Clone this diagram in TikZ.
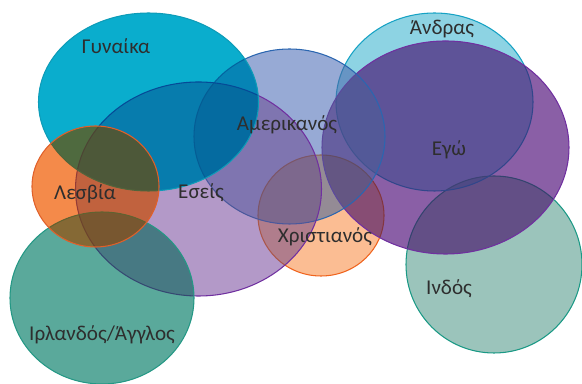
\documentclass[tikz,border=0pt]{standalone}
\usepackage{fontspec}
\setmainfont{Carlito}
\usepackage{tikz}

\definecolor{chrfill}{HTML}{FBBD93}
\definecolor{chrline}{HTML}{F0641E}
\definecolor{indfill}{HTML}{9BC4BB}
\definecolor{indline}{HTML}{1A9985}
\definecolor{andfill}{HTML}{8DD3E3}
\definecolor{andline}{HTML}{16A2C4}
\definecolor{egofill}{HTML}{8A5FA6}
\definecolor{egoline}{HTML}{7030A0}
\definecolor{amefill}{HTML}{97AAD5}
\definecolor{ameline}{HTML}{2B66B0}
\definecolor{eseisfill}{HTML}{B399C8}
\definecolor{eseisline}{HTML}{7030A0}
\definecolor{gynfill}{HTML}{0AADCD}
\definecolor{gynline}{HTML}{0E9CB8}
\definecolor{irlfill}{HTML}{5AA99B}
\definecolor{irlline}{HTML}{249885}
\definecolor{lesfill}{HTML}{F48A4A}
\definecolor{lesline}{HTML}{E0602A}

\tikzset{
  blob/.style={fill=#1, blend mode=multiply},
  wash/.style={fill=#1, fill opacity=0.3},
  rim/.style={draw=#1, line width=0.6pt},
  lbl/.style={text=black!82, font=\fontsize{12}{14}\selectfont, inner sep=0pt},
}

\begin{document}
\begin{tikzpicture}[x=0.02cm, y=-0.02cm]
\useasboundingbox (0,0) rectangle (582,384);

% Christianos, Indos, Andras
\fill[blob=chrfill] (321,215.5) ellipse (63 and 60.5);
\fill[wash=chrfill] (321,215.5) ellipse (63 and 60.5);
\draw[rim=chrline] (321,215.5) ellipse (63 and 60.5);
\fill[blob=indfill] (494,264.5) ellipse (88 and 88.5);
\fill[wash=indfill] (494,264.5) ellipse (88 and 88.5);
\draw[rim=indline] (494,264.5) ellipse (88 and 88.5);
\fill[blob=andfill] (434.5,102) ellipse (98.5 and 89);
\fill[wash=andfill] (434.5,102) ellipse (98.5 and 89);
\draw[rim=andline] (434.5,102) ellipse (98.5 and 89);

% Ego, Amerikanos
\fill[blob=egofill] (445.5,147.5) ellipse (123.5 and 106.5);
\fill[wash=egofill] (445.5,147.5) ellipse (123.5 and 106.5);
\draw[rim=egoline] (445.5,147.5) ellipse (123.5 and 106.5);
\fill[blob=amefill] (289.5,136.5) ellipse (95.5 and 87.5);
\fill[wash=amefill] (289.5,136.5) ellipse (95.5 and 87.5);
\draw[rim=ameline] (289.5,136.5) ellipse (95.5 and 87.5);

% Eseis, Gynaika, Irlandos, Lesvia
\fill[blob=eseisfill] (198.5,189) ellipse (123 and 107);
\fill[wash=eseisfill] (198.5,189) ellipse (123 and 107);
\draw[rim=eseisline] (198.5,189) ellipse (123 and 107);
\fill[blob=gynfill] (148.5,102) ellipse (110 and 89);
\fill[wash=gynfill] (148.5,102) ellipse (110 and 89);
\draw[rim=gynline] (148.5,102) ellipse (110 and 89);
\fill[blob=irlfill] (102,298) ellipse (92 and 86);
\fill[wash=irlfill] (102,298) ellipse (92 and 86);
\draw[rim=irlline] (102,298) ellipse (92 and 86);
\fill[blob=lesfill] (95.5,186.5) ellipse (63.5 and 60.5);
\fill[wash=lesfill] (95.5,186.5) ellipse (63.5 and 60.5);
\draw[rim=lesline] (95.5,186.5) ellipse (63.5 and 60.5);

% labels
\node[lbl] (gyn) at (116,46) {Γυναίκα};
\node[lbl] (andr) at (442,29) {Άνδρας};
\node[lbl] (amer) at (287,125) {Αμερικανός};
\node[lbl] (ego) at (449,150) {Εγώ};
\node[lbl] (eseis) at (201,193) {Εσείς};
\node[lbl] (lesv) at (85,194) {Λεσβία};
\node[lbl] (chris) at (325,237) {Χριστιανός};
\node[lbl] (ind) at (449,289) {Ινδός};
\node[lbl] (irl) at (102,335) {Ιρλανδός/Άγγλος};
\end{tikzpicture}
\end{document}
